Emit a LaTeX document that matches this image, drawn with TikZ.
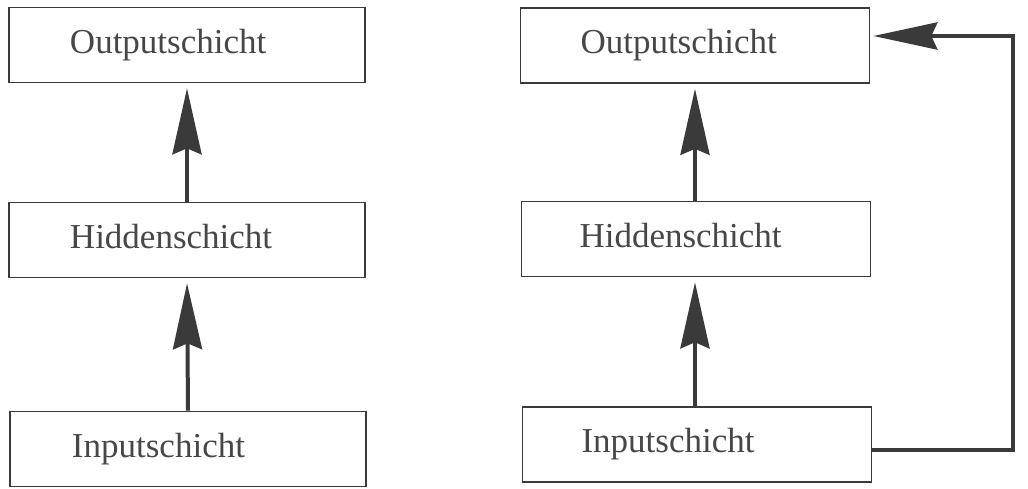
\documentclass[tikz,border=0pt]{standalone}
\usepackage{fontspec}
\setmainfont{Liberation Serif}
\usetikzlibrary{arrows.meta}
\definecolor{ink}{HTML}{3A3A3A}
\definecolor{txt}{HTML}{474747}
\begin{document}
\begin{tikzpicture}[x=1pt,y=-1pt,
  layer/.style={draw=ink, line width=1.6pt, fill=white, inner ysep=0pt,
    text width=#1, align=left, inner xsep=0pt,
    minimum height=75pt, text height=24pt, text depth=8pt,
    font=\fontsize{35}{40}\selectfont, text=txt},
  flow/.style={draw=ink, line width=4pt,
    -{Stealth[length=66pt, width=29pt, inset=6pt, fill=ink]}, shorten >=5pt},
  feedback/.style={draw=ink, line width=4.5pt, line join=miter,
    -{Stealth[length=64pt, width=27pt, inset=6pt, fill=ink]}, shorten >=3pt}]
\useasboundingbox (0,0) rectangle (1028,488);

% feed-forward network
\node[layer=356pt] (lout) at (187,45)  {\hspace*{61pt}Outputschicht};
\node[layer=356pt] (lhid) at (187,240) {\hspace*{61pt}Hiddenschicht};
\node[layer=356pt] (lin)  at (188,449) {\hspace*{62pt}Inputschicht};
\draw[flow] (lhid.north) -- (lout.south);
\draw[flow] (lin.north) -- (lhid.south);

% network with a direct input-to-output connection
\node[layer=349pt] (rout) at (695,45.5) {\hspace*{60pt}Outputschicht};
\node[layer=349pt] (rhid) at (696,239)  {\hspace*{58pt}Hiddenschicht};
\node[layer=349pt] (rin)  at (697,444.5){\hspace*{59pt}Inputschicht};
\draw[flow] (rhid.north -| rout.south) -- (rout.south);
\draw[flow] (rin.north -| rout.south) -- (rhid.south -| rout.south);

\coordinate (fb) at (1013,36);
\draw[feedback] ([yshift=-5.5pt]rin.east) -| (fb) -- (rout.east |- fb);
\end{tikzpicture}
\end{document}
